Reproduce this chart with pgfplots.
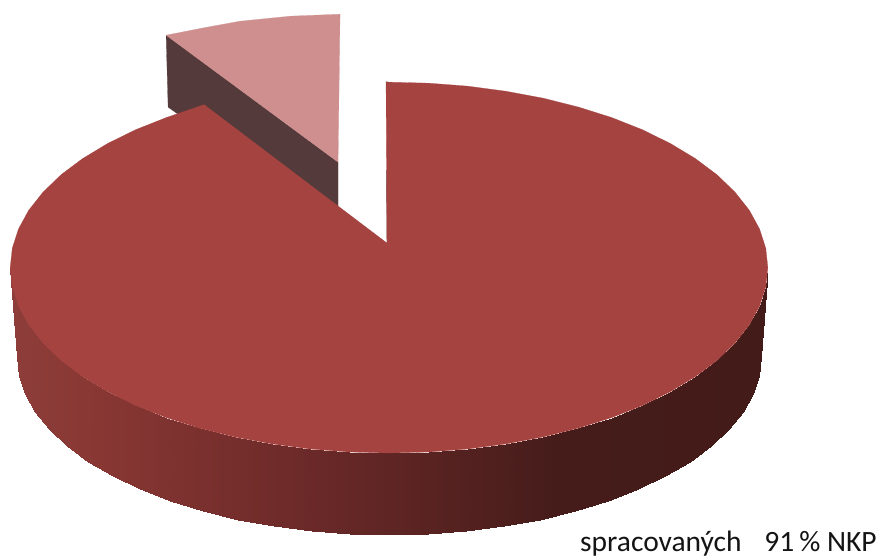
\documentclass[border=0pt]{standalone}
\usepackage{fontspec}
\setmainfont{Carlito}
\usepackage{pgfplots}
\usepackage{pgfplotstable}
\pgfplotsset{compat=1.18}
\definecolor{mainred}{RGB}{165,67,64}
\definecolor{lightred}{RGB}{207,143,143}
\definecolor{darkside}{RGB}{84,58,58}
\pgfplotstableread{
x y z
768 267.5 0
765.9 286.9 0
759.7 306.1 0
749.5 324.8 0
735.2 342.9 0
717.2 360.3 0
695.6 376.5 0
670.6 391.6 0
642.6 405.4 0
611.8 417.6 0
578.5 428.1 0
543.1 437.0 0
506.1 443.9 0
467.8 449.0 0
428.6 452.0 0
389 453.0 0
349.4 452.0 0
310.2 449.0 0
271.9 443.9 0
234.9 437.0 0
199.5 428.1 0
166.2 417.6 0
135.4 405.4 0
107.4 391.6 0
82.4 376.5 0
60.8 360.3 0
42.8 342.9 0
28.5 324.8 0
18.3 306.1 0
12.1 286.9 0
10 267.5 0
761 357 0
759 375.6 0
752.9 394.0 0
742.8 412.0 0
728.8 429.4 0
711.2 446 0
690 461.6 0
665.4 476.1 0
637.9 489.3 0
607.7 501.0 0
575 511.1 0
540.3 519.6 0
503.9 526.3 0
466.3 531.1 0
427.9 534.0 0
389 535 0
350.1 534.0 0
311.7 531.1 0
274.1 526.3 0
237.7 519.6 0
203 511.1 0
170.3 501.0 0
140.3 489.3 0
112.6 476.1 0
88 461.6 0
66.8 446 0
49.2 429.4 0
35.2 412.0 0
25.1 394.0 0
19 375.6 0
17 357 0
}\sidetable
\begin{document}
\begin{tikzpicture}
\begin{axis}[
  hide axis, scale only axis, width=880pt, height=557pt,
  xmin=0, xmax=880, ymin=0, ymax=557, zmin=-1, zmax=1,
  view={0}{90}, y dir=reverse, clip=false,
  colormap={pieside}{rgb255(10pt)=(142,62,58); rgb255(100pt)=(136,55,51); rgb255(300pt)=(108,42,41); rgb255(560pt)=(69,28,26); rgb255(768pt)=(67,27,25)},
  point meta min=10, point meta max=768,
]
\addplot3[draw=white, fill=white, forget plot] coordinates {(0,0,0) (880,0,0) (880,557,0) (0,557,0)} -- cycle;
% detached slice: side wall
\addplot3[fill=darkside, draw=darkside, line width=0.2pt] coordinates {(166,35,0) (338,162,0) (338,206,0) (300,200,0) (168,107,0)} -- cycle;
% detached slice: top face
\addplot3[fill=lightred, draw=lightred, line width=0.2pt] coordinates {(166,35,0) (207,27,0) (240,21,0) (290,16,0) (340,14,0) (338,162,0)} -- cycle;
% main slice: outer wall
\addplot3[surf, shader=interp, mesh/rows=2, mesh/cols=31, mesh/ordering=x varies, point meta=x, faceted color=none] table[x=x,y=y,z=z] {\sidetable};
% main slice: inner wall sliver
\addplot3[draw=darkside, line width=0.5pt] coordinates {(386.5,170,0) (387,243,0)};
% main slice: top face
\addplot3[fill=mainred, draw=mainred, line width=0.2pt] coordinates {
(387,243,0) (386,81.5,0) (389,82,0) (428.6,83.0,0) (467.8,86.0,0) (506.1,91.1,0) (543.1,98.0,0) (578.5,106.9,0) (611.8,117.4,0)
(642.6,129.6,0) (670.6,143.4,0) (695.6,158.5,0) (717.2,174.7,0) (735.2,192.1,0) (749.5,210.2,0) (759.7,228.9,0) (765.9,248.1,0)
(768,267.5,0) (765.9,286.9,0) (759.7,306.1,0) (749.5,324.8,0) (735.2,342.9,0) (717.2,360.3,0) (695.6,376.5,0) (670.6,391.6,0)
(642.6,405.4,0) (611.8,417.6,0) (578.5,428.1,0) (543.1,437.0,0) (506.1,443.9,0) (467.8,449.0,0) (428.6,452.0,0) (389,453.0,0)
(349.4,452.0,0) (310.2,449.0,0) (271.9,443.9,0) (234.9,437.0,0) (199.5,428.1,0) (166.2,417.6,0) (135.4,405.4,0) (107.4,391.6,0)
(82.4,376.5,0) (60.8,360.3,0) (42.8,342.9,0) (28.5,324.8,0) (18.3,306.1,0) (12.1,286.9,0) (10,267.5,0) (12.1,248.1,0) (18.3,228.9,0)
(28.5,210.2,0) (42.8,192.1,0) (60.8,174.7,0) (82.4,158.5,0) (107.4,143.4,0) (135.4,129.6,0) (166.2,117.4,0) (204,104.5,0)
} -- cycle;
\node[anchor=base east, inner sep=0pt, text=black!92, font=\fontsize{29.5}{34}\selectfont] at (axis cs:877,551.5,0) {spracovaných\hspace{0.55em} 91\,\% NKP};
\end{axis}
\end{tikzpicture}
\end{document}
